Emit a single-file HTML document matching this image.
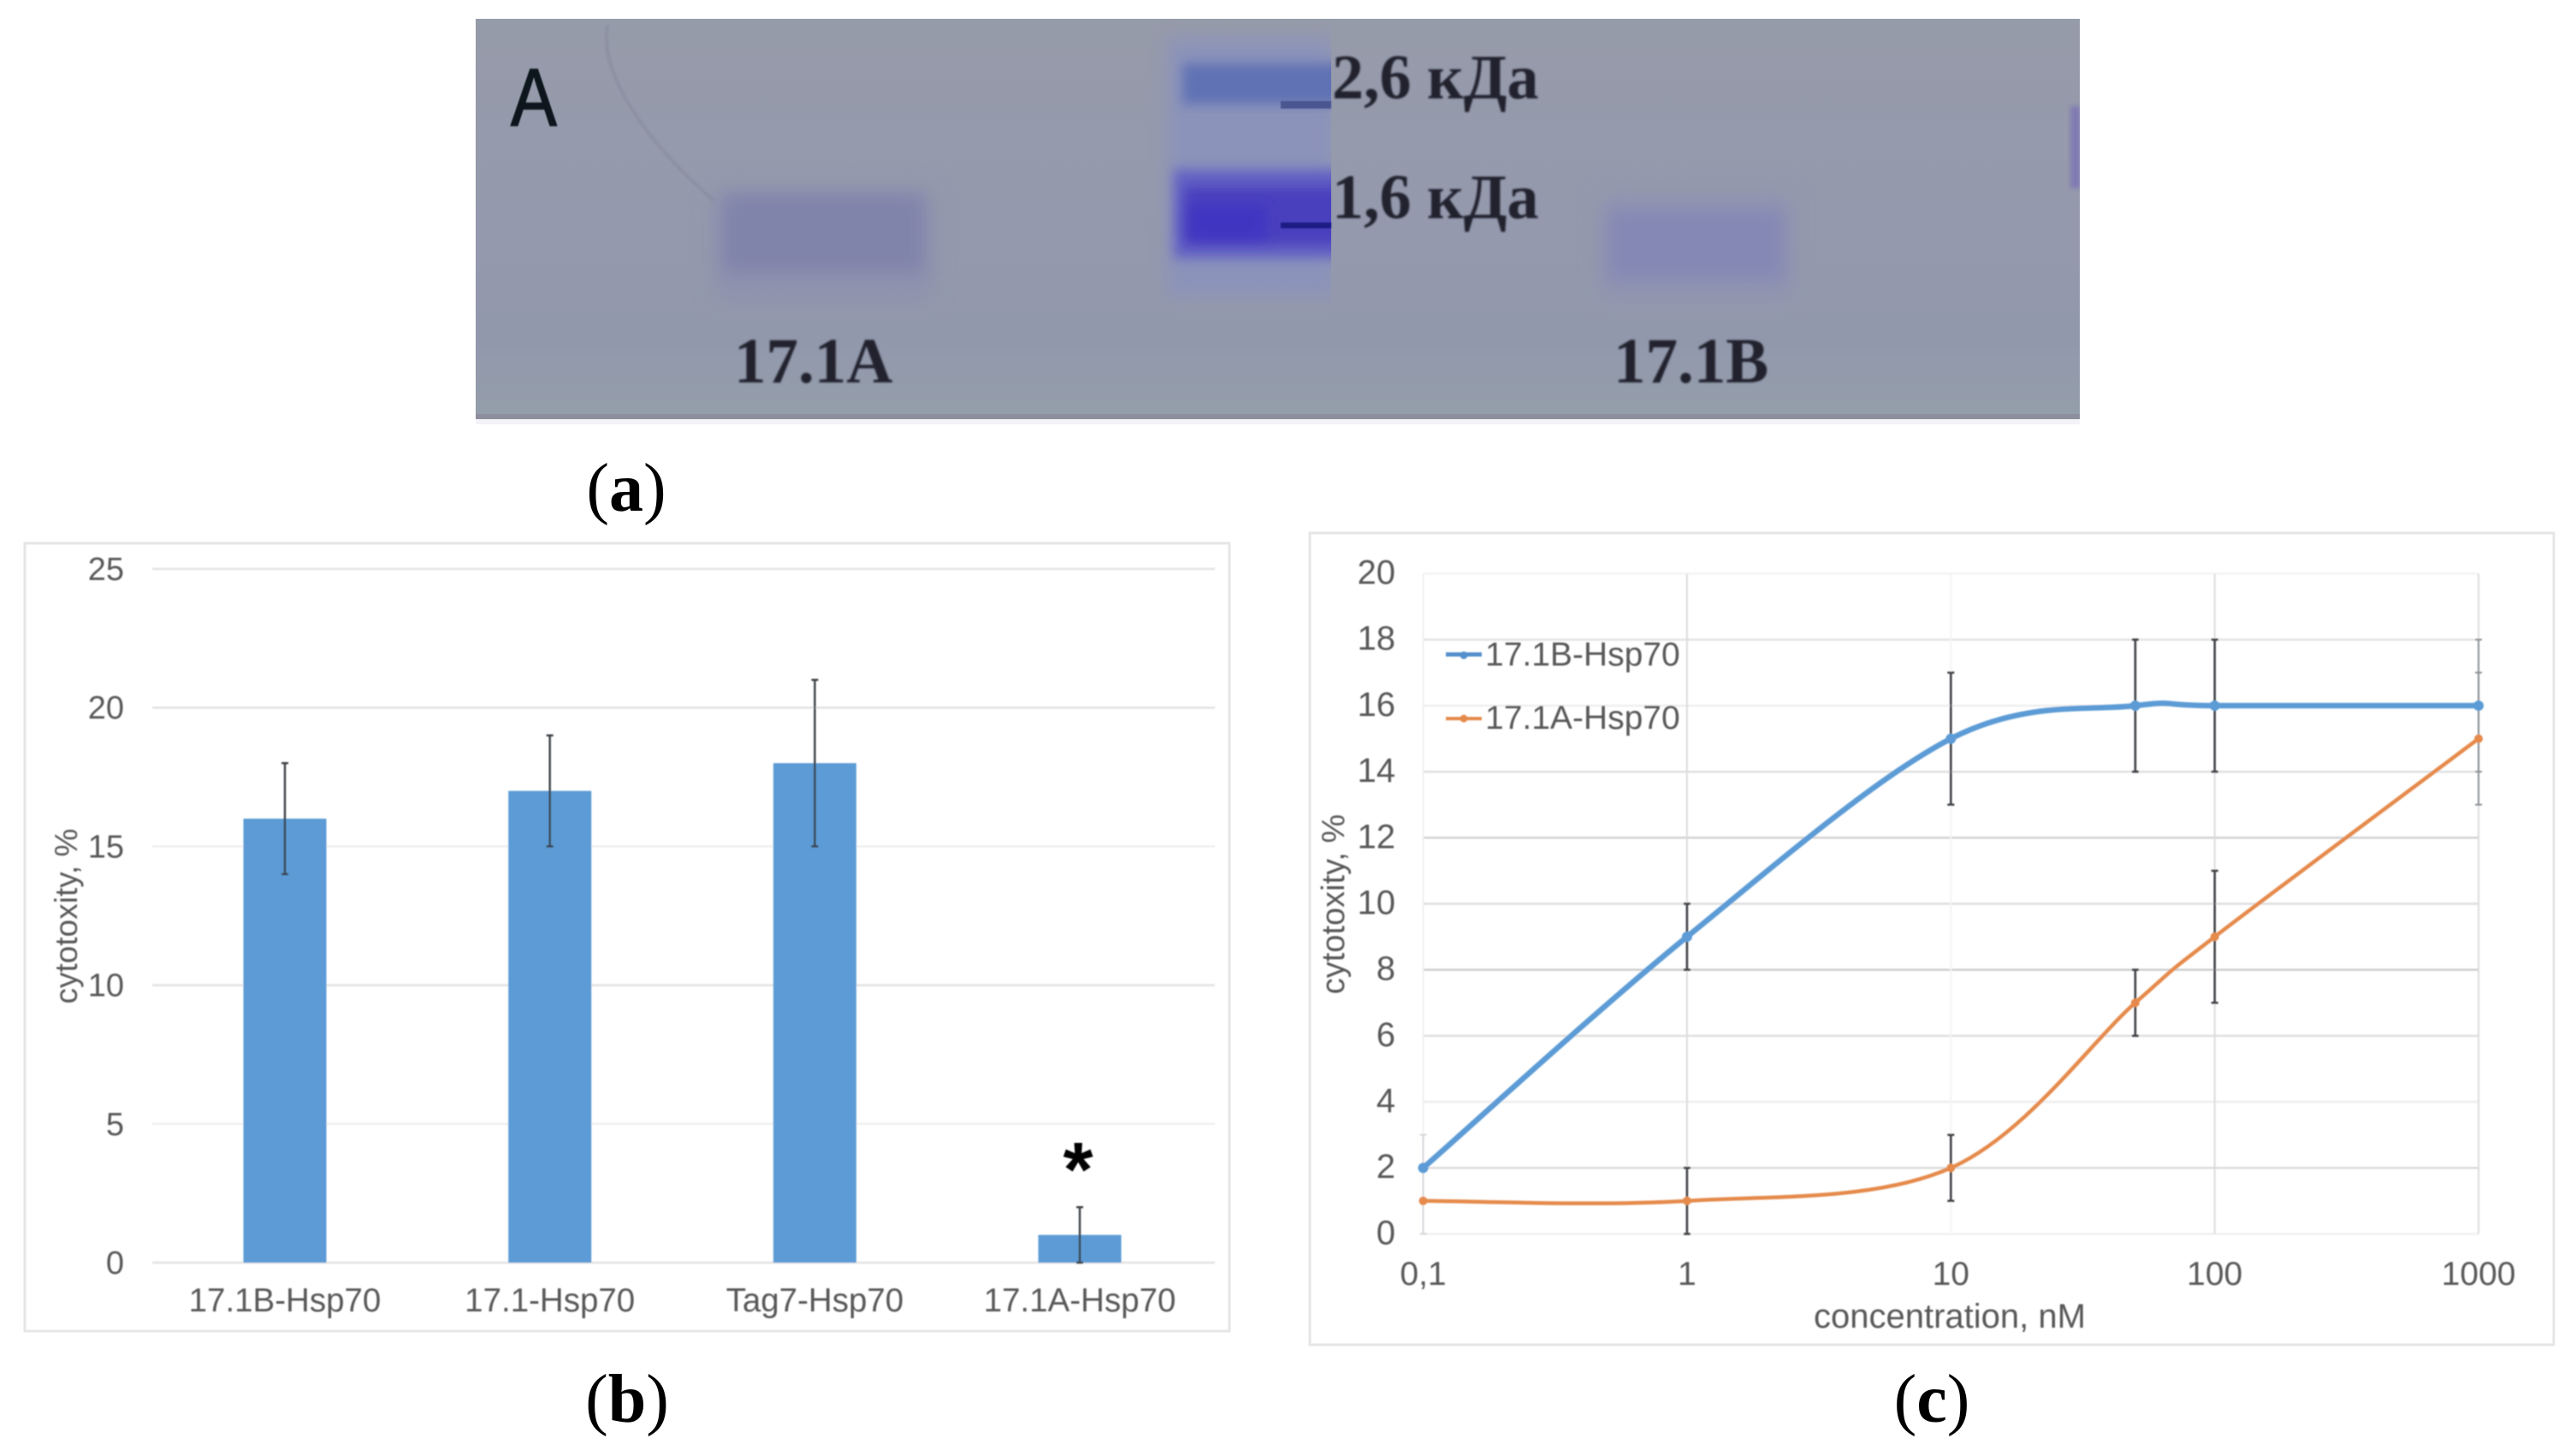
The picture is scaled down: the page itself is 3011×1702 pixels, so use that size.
<!DOCTYPE html>
<html lang="en">
<head>
<meta charset="utf-8">
<title>Figure: gel electrophoresis and cytotoxicity charts</title>
<style>
html,body{margin:0;padding:0;background:#fff;}
body{width:3011px;height:1702px;overflow:hidden;}
svg{display:block;}
text{font-family:"Liberation Sans",sans-serif;}
.serif{font-family:"Liberation Serif","Noto Serif CJK SC",serif;}
.axis{fill:#595959;}
</style>
</head>
<body>
<svg id="fig" xmlns="http://www.w3.org/2000/svg" width="3011" height="1702" viewBox="0 0 3011 1702">
<defs>
<filter id="b4" x="-30%" y="-30%" width="160%" height="160%"><feGaussianBlur stdDeviation="3"/></filter>
<filter id="b7" x="-30%" y="-50%" width="160%" height="200%"><feGaussianBlur stdDeviation="7"/></filter>
<filter id="b10" x="-30%" y="-50%" width="160%" height="200%"><feGaussianBlur stdDeviation="10"/></filter>
<filter id="b14" x="-40%" y="-40%" width="180%" height="180%"><feGaussianBlur stdDeviation="13"/></filter>
<filter id="bt" x="-5%" y="-5%" width="110%" height="110%"><feGaussianBlur stdDeviation="1.1"/></filter>
<filter id="bs" x="-5%" y="-5%" width="110%" height="110%"><feGaussianBlur stdDeviation="0.7"/></filter>
<clipPath id="gelclip"><rect x="556" y="22" width="1875" height="468"/></clipPath>
<clipPath id="markerclip"><rect x="1340" y="22" width="216" height="468"/></clipPath>
<linearGradient id="gelbg" x1="0" y1="0" x2="0" y2="1">
<stop offset="0" stop-color="#969baa"/><stop offset="0.55" stop-color="#9499ad"/><stop offset="0.8" stop-color="#9298ac"/><stop offset="1" stop-color="#949eaa"/>
</linearGradient>
</defs>
<rect width="3011" height="1702" fill="#fff"/>

<g id="panel-a">
  <g clip-path="url(#gelclip)">
    <rect x="556" y="22" width="1875" height="468" fill="url(#gelbg)"/>
    <path d="M710 30 C700 90 760 170 835 235" fill="none" stroke="#858a9c" stroke-width="4" opacity=".55" filter="url(#bt)"/>
    <rect x="835" y="222" width="255" height="130" fill="#8a8db0" opacity=".55" filter="url(#b14)"/>
    <rect x="845" y="228" width="235" height="90" fill="#8083aa" opacity=".95" filter="url(#b10)"/>
    <rect x="1870" y="225" width="225" height="125" fill="#8d90b6" opacity=".5" filter="url(#b14)"/>
    <rect x="1880" y="245" width="205" height="82" fill="#8487b5" opacity=".9" filter="url(#b10)"/>
    <rect x="1365" y="45" width="195" height="300" fill="#8a92bd" opacity=".85" filter="url(#b10)" clip-path="url(#markerclip)"/>
    <g clip-path="url(#markerclip)">
      <rect x="1382" y="74" width="190" height="48" fill="#6072b4" filter="url(#b7)"/>
      <rect x="1372" y="198" width="200" height="104" fill="#6462c4" filter="url(#b7)"/>
      <rect x="1384" y="218" width="190" height="68" fill="#4a40be" filter="url(#b7)"/>
      <rect x="1390" y="240" width="90" height="40" fill="#3f34c2" filter="url(#b7)"/>
    </g>
    <rect x="1497" y="118" width="59" height="9" fill="#48568f" filter="url(#bs)"/>
    <rect x="1497" y="260" width="59" height="7" fill="#1c1a85" filter="url(#bs)"/>
    <rect x="2420" y="124" width="12" height="96" fill="#7a72b6" opacity=".8" filter="url(#b4)"/>
    <rect x="556" y="484" width="1875" height="6" fill="#8e8f9e"/>
  </g>
  <rect x="556" y="490" width="1875" height="6" fill="#f3f3f8"/>
  <text transform="translate(597,147) scale(.84,1)" font-size="96" fill="#10131f" stroke="#10131f" stroke-width="1.5" filter="url(#bs)">A</text>
  <text class="serif" x="1557" y="115" font-size="74" font-weight="700" fill="#20242f" filter="url(#bt)">2,6 кДа</text>
  <text class="serif" x="1557" y="255" font-size="74" font-weight="700" fill="#20242f" filter="url(#bt)">1,6 кДа</text>
  <text class="serif" x="858" y="447" font-size="75" font-weight="700" fill="#20242f" filter="url(#bt)">17.1A</text>
  <text class="serif" x="1886" y="447" font-size="75" font-weight="700" fill="#20242f" filter="url(#bt)">17.1B</text>
</g>
<text class="serif" x="732" y="597" font-size="80" text-anchor="middle" fill="#000">(<tspan font-weight="700">a</tspan>)</text>

<rect x="29" y="635" width="1408" height="921" fill="#fff" stroke="#e6e6e6" stroke-width="3"/>
<g id="chart-b" filter="url(#bs)"></g>
<text class="serif" x="733" y="1662" font-size="80" text-anchor="middle" fill="#000">(<tspan font-weight="700">b</tspan>)</text>

<rect x="1531" y="623" width="1454" height="949" fill="#fff" stroke="#e6e6e6" stroke-width="3"/>
<g id="chart-c" filter="url(#bs)"></g>
<text class="serif" x="2258" y="1662" font-size="80" text-anchor="middle" fill="#000">(<tspan font-weight="700">c</tspan>)</text>
</svg>

<script>
// Chart (b) data
const barCategories = ['17.1B-Hsp70', '17.1-Hsp70', 'Tag7-Hsp70', '17.1A-Hsp70'];
const barValues = [16, 17, 18, 1];
const barErrLow = [14, 15, 15, 0];
const barErrHigh = [18, 19, 21, 2];
const barTicks = [0, 5, 10, 15, 20, 25];

// Chart (c) data
const concentrations = [0.1, 1, 10, 50, 100, 1000];
const concentrationTicks = [0.1, 1, 10, 100, 1000];
const concentrationTickLabels = ['0,1', '1', '10', '100', '1000'];
const cytotoxicityTicks = [0, 2, 4, 6, 8, 10, 12, 14, 16, 18, 20];
const gridShades = ['#f0f0f0', '#dcdcdc', '#eeeeee', '#e0e0e0', '#cfcfcf', '#dedede', '#d2d2d2', '#e0e0e0', '#efefef', '#e4e4e4', '#f4f4f4'];
const series17B = [2, 9, 15, 16, 16, 16];
const series17BLow = [1, 8, 13, 14, 14, 14];
const series17BHigh = [3, 10, 17, 18, 18, 18];
const series17A = [1, 1, 2, 7, 9, 15];
const series17ALow = [0, 0, 1, 6, 7, 13];
const series17AHigh = [2, 2, 3, 8, 11, 17];

const NS = 'http://www.w3.org/2000/svg';
function make(parent, tag, props, txt) {
  const el = document.createElementNS(NS, tag);
  for (const k in props) el.setAttribute(k, props[k]);
  if (txt !== undefined) el.textContent = txt;
  parent.appendChild(el);
  return el;
}

// ---------- Chart b ----------
(function () {
  const g = document.getElementById('chart-b');
  const yB = v => 1476 - v * (1476 - 665) / 25;
  const xB = i => 333 + i * 309.7;
  barTicks.forEach(t => {
    const line = make(g, 'line', {x1: 178, x2: 1420, y1: yB(t), y2: yB(t), stroke: t === 5 || t === 15 ? '#efefef' : '#e2e2e2', 'stroke-width': 2.5});
    
    
    const lab = make(g, 'text', {x: 145, y: yB(t) + 13, 'text-anchor': 'end', 'font-size': 38, class: 'axis'}, String(t));
    
    
  });
  barCategories.forEach((c, i) => {
    const bar = make(g, 'rect', {x: xB(i) - 48.5, y: yB(barValues[i]), width: 97, height: yB(0) - yB(barValues[i]), fill: '#5b9bd5'});
    
    
    const err = make(g, 'line', {x1: xB(i), x2: xB(i), y1: yB(barErrLow[i]), y2: yB(barErrHigh[i]), stroke: '#3a3f44', 'stroke-width': 2.4});
    
    
    [barErrLow[i], barErrHigh[i]].forEach(v => {
      const cap = make(g, 'line', {x1: xB(i) - 4, x2: xB(i) + 4, y1: yB(v), y2: yB(v), stroke: '#3a3f44', 'stroke-width': 2.4});
      
      
    });
    const lab = make(g, 'text', {x: xB(i), y: 1533, 'text-anchor': 'middle', 'font-size': 38.5, class: 'axis'}, c);
    
    
  });
  const title = make(g, 'text', {transform: 'translate(90,1071) rotate(-90)', 'text-anchor': 'middle', 'font-size': 37, class: 'axis'}, 'cytotoxity, %');
  
  
  const star = make(g, 'text', {x: xB(3) - 2, y: 1398, 'text-anchor': 'middle', 'font-size': 90, 'font-weight': 700, fill: '#000'}, '*');
  
  
})();

// ---------- Chart c ----------
(function () {
  const g = document.getElementById('chart-c');
  const yC = v => 1442.4 - v * (1442.4 - 670.5) / 20;
  const xC = v => 1663.5 + (Math.log10(v) + 1) * 308.4;

  cytotoxicityTicks.forEach((t, i) => {
    const line = make(g, 'line', {x1: xC(0.1), x2: xC(1000), y1: yC(t), y2: yC(t), stroke: gridShades[i], 'stroke-width': 2.5});
    
    
    const lab = make(g, 'text', {x: 1631, y: yC(t) + 12, 'text-anchor': 'end', 'font-size': 40, class: 'axis'}, String(t));
    
    
  });
  concentrationTicks.forEach((t, i) => {
    const line = make(g, 'line', {x1: xC(t), x2: xC(t), y1: yC(20), y2: yC(0), stroke: i === 2 ? '#f4f4f4' : i === 0 ? '#efefef' : '#dcdcdc', 'stroke-width': 2});
    
    
    const lab = make(g, 'text', {x: xC(t), y: 1502, 'text-anchor': 'middle', 'font-size': 39, class: 'axis'}, concentrationTickLabels[i]);
    
    
  });

  function smooth(vals) {
    const p = vals.map((v, i) => [xC(concentrations[i]), yC(v)]);
    let d = 'M' + p[0][0] + ' ' + p[0][1];
    for (let i = 0; i < p.length - 1; i++) {
      const a = p[Math.max(i - 1, 0)], b = p[i], c = p[i + 1], e = p[Math.min(i + 2, p.length - 1)];
      d += ' C' + (b[0] + (c[0] - a[0]) / 6) + ' ' + (b[1] + (c[1] - a[1]) / 6) + ' ' +
        (c[0] - (e[0] - b[0]) / 6) + ' ' + (c[1] - (e[1] - b[1]) / 6) + ' ' + c[0] + ' ' + c[1];
    }
    return d;
  }
  function errors(low, high) {
    concentrations.forEach((c, i) => {
      const first = i === 0;
      const last = i === concentrations.length - 1;
      const col = first ? '#d4d6d9' : last ? '#8d9096' : '#3f4347';
      const wid = first || last ? 2 : 2.6;
      const err = make(g, 'line', {x1: xC(c), x2: xC(c), y1: yC(low[i]), y2: yC(high[i]), stroke: col, 'stroke-width': wid});
      
      
      [low[i], high[i]].forEach(v => {
        const cap = make(g, 'line', {x1: xC(c) - 4, x2: xC(c) + 4, y1: yC(v), y2: yC(v), stroke: col, 'stroke-width': wid});
        
        
      });
    });
  }
  function series(vals, color, width, r, name) {
    const path = make(g, 'path', {d: smooth(vals), fill: 'none', stroke: color, 'stroke-width': width, 'stroke-linecap': 'round'});
    
    
    vals.forEach((v, i) => {
      const pt = make(g, 'circle', {cx: xC(concentrations[i]), cy: yC(v), r: r, fill: color});
      
      
    });
  }
  errors(series17BLow, series17BHigh);
  errors(series17ALow, series17AHigh);
  series(series17B, '#5b9bd5', 6.5, 6, 'series-17-1b');
  series(series17A, '#e58a4c', 4.5, 5, 'series-17-1a');

  // Legend
  const l1 = make(g, 'line', {x1: 1690, x2: 1732, y1: 765, y2: 765, stroke: '#5590cc', 'stroke-width': 5});
  
  
  const d1 = make(g, 'circle', {cx: 1711, cy: 766, r: 4.5, fill: '#5590cc'});
  
  
  const t1 = make(g, 'text', {x: 1736, y: 778, 'font-size': 39, class: 'axis'}, '17.1B-Hsp70');
  
  
  const l2 = make(g, 'line', {x1: 1690, x2: 1732, y1: 840, y2: 840, stroke: '#e58a4c', 'stroke-width': 4});
  
  
  const d2 = make(g, 'circle', {cx: 1711, cy: 840, r: 4.5, fill: '#e58a4c'});
  
  
  const t2 = make(g, 'text', {x: 1736, y: 852, 'font-size': 39, class: 'axis'}, '17.1A-Hsp70');
  
  

  const xt = make(g, 'text', {x: 2279, y: 1552, 'text-anchor': 'middle', 'font-size': 40, class: 'axis'}, 'concentration, nM');
  
  
  const yt = make(g, 'text', {transform: 'translate(1571,1057) rotate(-90)', 'text-anchor': 'middle', 'font-size': 38, class: 'axis'}, 'cytotoxity, %');
  
  
})();
</script>
</body>
</html>
